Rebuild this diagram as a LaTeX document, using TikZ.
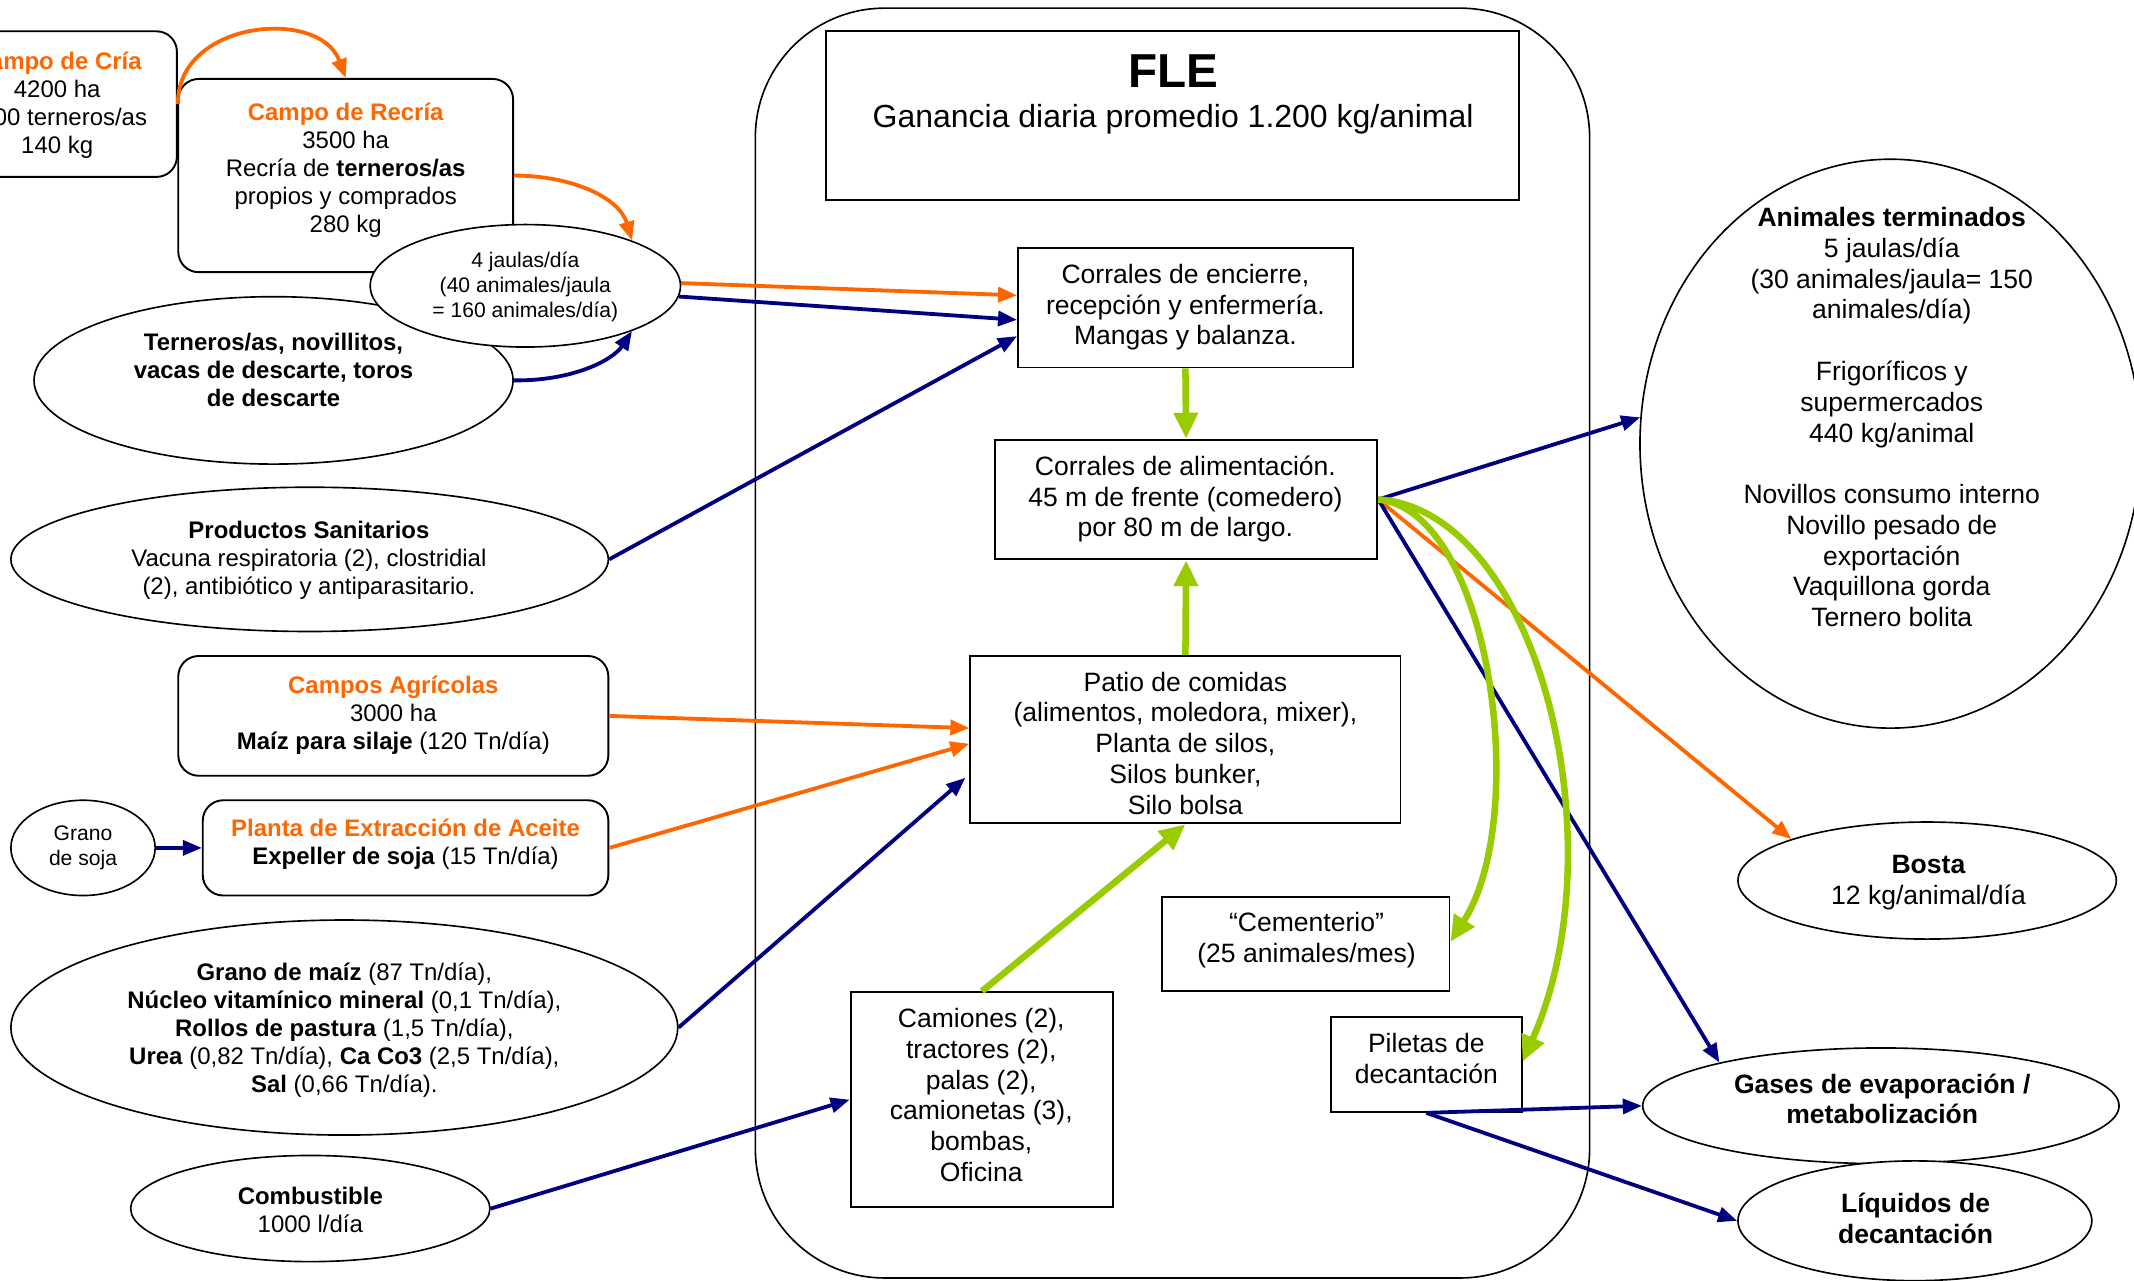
\documentclass[tikz,border=0pt]{standalone}
\usepackage{fontspec}
\setmainfont{Liberation Sans}
\usetikzlibrary{shapes.geometric,arrows.meta}
\definecolor{flowora}{HTML}{FF6600}
\definecolor{flowblue}{HTML}{000080}
\definecolor{flowgreen}{HTML}{99CC00}
\newcommand{\smallsz}{\fontsize{17.6}{20.6}\selectfont}
\newcommand{\midsz}{\fontsize{19.5}{22.6}\selectfont}
\newcommand{\tinysz}{\fontsize{15.5}{18.2}\selectfont}
\begin{document}
\begin{tikzpicture}[x=1pt,y=-1pt,
  every node/.style={inner sep=0pt, align=center},
  rbox/.style={draw, line width=1.4pt, rounded corners=15pt, fill=white},
  sbox/.style={draw, line width=1.4pt, fill=white},
  oval/.style={draw, ellipse, line width=1.2pt, fill=white},
  blueflow/.style={draw=flowblue, line width=2.8pt, -{Triangle[length=14pt,width=11pt]}},
  oraflow/.style={draw=flowora, line width=2.8pt, -{Triangle[length=14pt,width=11pt]}},
  greenflow/.style={draw=flowgreen, line width=4.8pt, -{Triangle[length=19pt,width=17pt]}},
]
\useasboundingbox[fill=white] (0,0) rectangle (1568,941);

% feedlot frame and title
\node[draw, line width=1.2pt, rounded corners=95pt, minimum width=613pt, minimum height=933pt] (fle) at (861.5,472.5) {};
\node[sbox, minimum width=509pt, minimum height=124pt] (hdr) at (861.5,85) {};
\node[font=\fontsize{35}{40}\selectfont\bfseries, anchor=base] (fleT) at (862,64.5) {FLE};
\node[font=\fontsize{23.5}{27}\selectfont, anchor=base] (fleS) at (862,94) {Ganancia diaria promedio 1.200 kg/animal};

% suppliers on the left
\node[rbox, minimum width=176pt, minimum height=107pt] (cria) at (42,76.5) {};
\node[font=\smallsz] (criaT) at (42,77) {\textcolor{flowora}{\bfseries Campo de Cría}\\4200 ha\\1000 terneros/as\\140 kg};

\node[rbox, minimum width=246pt, minimum height=142pt] (recria) at (254,129) {};
\node[font=\smallsz] (recriaT) at (254,125) {\textcolor{flowora}{\bfseries Campo de Recría}\\3500 ha\\Recría de \textbf{terneros/as}\\propios y comprados\\280 kg};

\node[oval, minimum width=352pt, minimum height=123pt] (terneros) at (201,279.5) {};
\node[font=\smallsz\bfseries] (ternerosT) at (201,271.5) {Terneros/as, novillitos,\\vacas de descarte, toros\\de descarte};

\node[oval, minimum width=228pt, minimum height=90pt] (jaulas) at (386,210) {};
\node[font=\tinysz] (jaulasT) at (386,211) {4 jaulas/día\\(40 animales/jaula\\= 160 animales/día)};

\node[oval, minimum width=439pt, minimum height=106pt] (prod) at (227.5,411) {};
\node[font=\smallsz] (prodT) at (227,411.5) {\textbf{Productos Sanitarios}\\Vacuna respiratoria (2), clostridial\\(2), antibiótico y antiparasitario.};

\node[rbox, minimum width=316pt, minimum height=88pt] (campos) at (289,526) {};
\node[font=\smallsz] (camposT) at (289,525.6) {\textcolor{flowora}{\bfseries Campos Agrícolas}\\3000 ha\\\textbf{Maíz para silaje} (120 Tn/día)};

\node[oval, minimum width=106pt, minimum height=70pt] (soja) at (61,623) {};
\node[font=\tinysz] (sojaT) at (61,623) {Grano\\de soja};

\node[rbox, minimum width=298pt, minimum height=70pt] (planta) at (298,623) {};
\node[font=\smallsz] (plantaT) at (298,620) {\textcolor{flowora}{\bfseries Planta de Extracción de Aceite}\\\textbf{Expeller de soja} (15 Tn/día)};

\node[oval, minimum width=490pt, minimum height=158pt] (maiz) at (253,755) {};
\node[font=\smallsz] (maizT) at (253,757) {\textbf{Grano de maíz} (87 Tn/día),\\\textbf{Núcleo vitamínico mineral} (0,1 Tn/día),\\\textbf{Rollos de pastura} (1,5 Tn/día),\\\textbf{Urea} (0,82 Tn/día), \textbf{Ca Co3} (2,5 Tn/día),\\\textbf{Sal} (0,66 Tn/día).};

\node[oval, minimum width=264pt, minimum height=78pt] (comb) at (228,888) {};
\node[font=\smallsz] (combT) at (228,889) {\textbf{Combustible}\\1000 l/día};

% areas inside the feedlot
\node[sbox, minimum width=246pt, minimum height=88pt] (encierre) at (871,226) {};
\node[font=\midsz] (encierreT) at (871,225.7) {Corrales de encierre,\\recepción y enfermería.\\Mangas y balanza.};

\node[sbox, minimum width=281pt, minimum height=88pt] (alim) at (871.5,367) {};
\node[font=\midsz] (alimT) at (871,366.7) {Corrales de alimentación.\\45 m de frente (comedero)\\por 80 m de largo.};

\node[sbox, minimum width=316pt, minimum height=123pt] (patio) at (871,543.5) {};
\node[font=\midsz] (patioT) at (871,546) {Patio de comidas\\(alimentos, moledora, mixer),\\Planta de silos,\\Silos bunker,\\Silo bolsa};

\node[sbox, minimum width=211pt, minimum height=69pt] (cement) at (959.5,693.5) {};
\node[font=\midsz] (cementT) at (960,690.7) {“Cementerio”\\(25 animales/mes)};

\node[sbox, minimum width=193pt, minimum height=158pt] (camiones) at (721.5,808) {};
\node[font=\midsz] (camionesT) at (721,804.5) {Camiones (2),\\tractores (2),\\palas (2),\\camionetas (3),\\bombas,\\Oficina};

\node[sbox, minimum width=140pt, minimum height=70pt] (piletas) at (1048,782) {};
\node[font=\midsz] (piletasT) at (1048,777.5) {Piletas de\\decantación};

% outputs on the right
\node[oval, minimum width=368pt, minimum height=418pt] (term) at (1389,326) {};
\node[font=\midsz] (termT) at (1390,306.5) {\textbf{Animales terminados}\\5 jaulas/día\\(30 animales/jaula= 150\\animales/día)\\[22.6pt]Frigoríficos y\\supermercados\\440 kg/animal\\[22.6pt]Novillos consumo interno\\Novillo pesado de\\exportación\\Vaquillona gorda\\Ternero bolita};

\node[oval, minimum width=278pt, minimum height=86pt] (bosta) at (1416,647) {};
\node[font=\midsz] (bostaT) at (1417,648.7) {\textbf{Bosta}\\12 kg/animal/día};

\node[oval, minimum width=350pt, minimum height=85pt] (gases) at (1382,812.5) {};
\node[font=\midsz\bfseries] (gasesT) at (1383,807.5) {Gases de evaporación /\\metabolización};

\node[oval, minimum width=260pt, minimum height=88pt] (liquidos) at (1407,897) {};
\node[font=\midsz\bfseries] (liquidosT) at (1407.5,895.5) {Líquidos de\\decantación};

% flows
\draw[oraflow] (cria.east) .. controls (130,15) and (235,5) .. (recria.north);
\draw[oraflow] (recria.east) .. controls (420,129) and (455,145) .. (jaulas.23);
\draw[blueflow] (terneros.east) .. controls (420,280) and (450,265) .. (jaulas.-23);
\draw[oraflow] (jaulas.1) -- ([yshift=9pt]encierre.west);
\draw[blueflow] (jaulas.-4) -- ([yshift=-9pt]encierre.west);
\draw[blueflow] (prod.east) -- ([yshift=-21pt]encierre.west);
\draw[greenflow] (encierre.south) -- (alim.north);
\draw[greenflow] (patio.north) -- (alim.south);
\draw[oraflow] (campos.east) -- ([yshift=8.5pt]patio.west);
\draw[oraflow] (planta.east) -- ([yshift=-3pt]patio.west);
\draw[blueflow] (maiz.east) -- ([xshift=-3pt,yshift=-28pt]patio.west);
\draw[blueflow] (soja.east) -- (planta.west);
\draw[greenflow] (camiones.north) -- (patio.south);
\draw[blueflow] (comb.east) -- (camiones.west);
\draw[blueflow] (alim.east) -- (term.174);
\draw[oraflow] (alim.east) -- (bosta.163);
\draw[blueflow] (alim.east) -- (gases.165);
\draw[greenflow] (alim.east) .. controls (1095,375) and (1125,600) .. ([yshift=1.5pt]cement.east);
\draw[greenflow] (alim.east) .. controls (1130,375) and (1190,620) .. ([yshift=2pt]piletas.east);
\draw[blueflow] (piletas.south) -- (gases.west);
\draw[blueflow] (piletas.south) -- (liquidos.west);
\end{tikzpicture}
\end{document}
